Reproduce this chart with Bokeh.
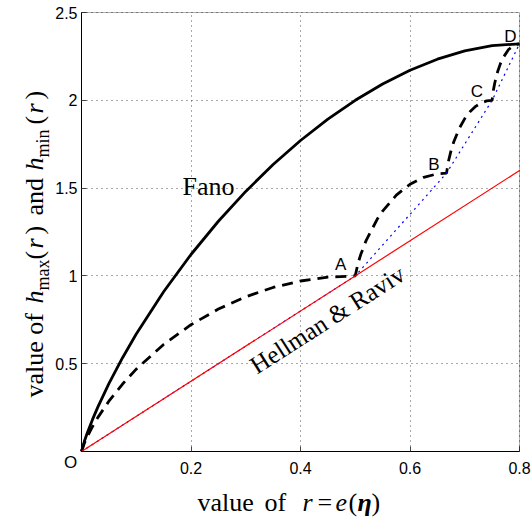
import math
from bokeh.plotting import figure
from bokeh.models import Range1d, FixedTicker, Label, BoxAnnotation
from bokeh.embed import file_html
from bokeh.resources import INLINE

# ---------------- data ----------------
r_fano = [0.0, 0.005, 0.01, 0.02, 0.03, 0.05, 0.075, 0.1, 0.15, 0.2, 0.25, 0.3,
          0.35, 0.4, 0.45, 0.5, 0.55, 0.6, 0.65, 0.7, 0.75, 0.8]
h_fano = [0.0, 0.0554, 0.1008, 0.1814, 0.2544, 0.3864, 0.5343, 0.669, 0.9098,
          1.1219, 1.3113, 1.4813, 1.6341, 1.771, 1.8928, 2.0, 2.0928, 2.171,
          2.2341, 2.2813, 2.3113, 2.3219]

r_hmin = [0.0, 0.005, 0.01, 0.02, 0.03, 0.05, 0.075, 0.1, 0.15, 0.2, 0.25, 0.3,
          0.35, 0.4, 0.45, 0.5,
          0.505, 0.51, 0.52, 0.54, 0.55, 0.575, 0.6, 0.625, 0.65, 0.6667,
          0.67, 0.675, 0.68, 0.69, 0.7, 0.71, 0.72, 0.73, 0.74, 0.75,
          0.7525, 0.755, 0.76, 0.765, 0.77, 0.78, 0.79, 0.8]
h_hmin = [0.0, 0.0454, 0.0808, 0.1414, 0.1944, 0.2864, 0.3843, 0.469, 0.6098,
          0.7219, 0.8113, 0.8813, 0.9341, 0.971, 0.9928, 1.0,
          1.0708, 1.1214, 1.2023, 1.3222, 1.369, 1.4599, 1.5219, 1.5613, 1.5813, 1.585,
          1.65, 1.714, 1.7639, 1.84, 1.8955, 1.9363, 1.9657, 1.9853, 1.9965, 2.0,
          2.0608, 2.1014, 2.1623, 2.2074, 2.2422, 2.2894, 2.3143, 2.3219]

r_hull = [0.0, 0.5, 0.6667, 0.75, 0.8]
h_hull = [0.0, 1.0, 1.585, 2.0, 2.3219]

r_hr = [0.0, 0.8]
h_hr = [0.0, 1.6]

pt_names = ["O", "A", "B", "C", "D"]
pt_r = [0.0, 0.5, 0.6667, 0.75, 0.8]
pt_h = [0.0, 1.0, 1.585, 2.0, 2.3219]

x_ticks = [0.2, 0.4, 0.6, 0.8]
y_ticks = [0.5, 1.0, 1.5, 2.0, 2.5]

# ---------------- layout ----------------
W, H = 531, 523
L, R, T, B = 81, 12, 12, 72          # pixel margins of the axes box
X0, X1 = 0.0, 0.8
Y0, Y1 = 0.0, 2.5
FW = W - L - R
FH = H - T - B
SHIFT = 0.33                          # label baseline correction (em)


def dx(px):
    return X0 + (px - L) / FW * (X1 - X0)


def dy(py):
    return Y0 + (T + FH - py) / FH * (Y1 - Y0)


SERIF = "Liberation Serif"
SANS = "Liberation Sans"

# the frame spans the whole canvas; the axes box is drawn at fixed locations
p = figure(width=W, height=H, output_backend="svg", toolbar_location=None,
           x_range=Range1d(dx(0), dx(W)), y_range=Range1d(dy(H), dy(0)),
           min_border=0)
p.background_fill_color = "white"
p.border_fill_color = "white"
p.outline_line_color = None

xa = p.xaxis[0]
ya = p.yaxis[0]
xa.fixed_location = Y0
ya.fixed_location = X0
xa.bounds = (X0, X1)
ya.bounds = (Y0, Y1)
xa.ticker = FixedTicker(ticks=x_ticks)
ya.ticker = FixedTicker(ticks=y_ticks)
xa.major_label_overrides = {t: f"{t:g}" for t in x_ticks}
ya.major_label_overrides = {t: f"{t:g}" for t in y_ticks}
for ax in (xa, ya):
    ax.major_tick_in = 5
    ax.major_tick_out = 0
    ax.minor_tick_in = 0
    ax.minor_tick_out = 0
    ax.axis_line_color = "black"
    ax.major_tick_line_color = "#444444"
    ax.major_label_text_font = SANS
    ax.major_label_text_font_size = "16px"
    ax.major_label_text_color = "black"
xa.major_label_standoff = 10
ya.major_label_standoff = 4

# grid
p.xgrid.ticker = FixedTicker(ticks=x_ticks)
p.ygrid.ticker = FixedTicker(ticks=y_ticks)
p.xgrid[0].cross_bounds = (Y0, Y1)
p.ygrid[0].cross_bounds = (X0, X1)
for g in (p.xgrid[0], p.ygrid[0]):
    g.grid_line_color = "#444444"
    g.grid_line_dash = "1 4"
    g.grid_line_width = 1
    g.grid_line_alpha = 0.9

# axes box
p.add_layout(BoxAnnotation(left=X0, right=X1, bottom=Y0, top=Y1,
                           fill_alpha=0, line_color="black", line_width=1,
                           level="overlay"))

# curves
p.line(r_fano, h_fano, line_color="black", line_width=2.8)
p.line(r_hmin, h_hmin, line_color="black", line_width=2.8, line_dash="11 7")
p.line(r_hull, h_hull, line_color="#0000ff", line_width=1.2, line_dash="2 4")
p.line(r_hr, h_hr, line_color="#ff0000", line_width=1.2)

# point labels (x offset px, y offset px up, align)
offsets = {"O": (-11, -11, "center"), "A": (-9, 11, "right"), "B": (-7, 9, "right"),
           "C": (-9, 9, "right"), "D": (-3, 7, "right")}
for name, rx, hy in zip(pt_names, pt_r, pt_h):
    ox, oy, al = offsets[name]
    p.add_layout(Label(x=rx, y=hy, text=name, x_offset=ox, y_offset=oy,
                       text_align=al, text_baseline="alphabetic",
                       text_font=SANS, text_font_size="17px", text_color="black"))

# curve labels
p.add_layout(Label(x=dx(182), y=dy(195 - SHIFT * 27), text="Fano", text_font=SERIF,
                   text_font_size="26px", text_align="left",
                   text_baseline="alphabetic", text_color="black"))
ang = math.atan((h_hr[1] - h_hr[0]) / (Y1 - Y0) * FH /
                ((r_hr[1] - r_hr[0]) / (X1 - X0) * FW))
p.add_layout(Label(x=dx(252), y=dy(367),
                   text="Hellman & Raviv", angle=ang,
                   text_font=SERIF, text_font_size="25px", text_align="left",
                   text_baseline="alphabetic", text_color="black"))

# x axis label (fragments): text, style, left px
XL_BASE = 511
xlab = [("value", "normal", 197), ("of", "normal", 264), ("r", "italic", 302),
        ("=", "normal", 317), ("e", "italic", 335), ("(", "normal", 348),
        ("\u03b7", "bold italic", 357), (")", "normal", 371)]
for txt, sty, px in xlab:
    p.add_layout(Label(x=dx(px), y=dy(XL_BASE - SHIFT * 26), text=txt,
                       text_font=SERIF, text_font_style=sty, text_font_size="26px",
                       text_align="left", text_baseline="alphabetic",
                       text_color="black"))

# y axis label (fragments, rotated): text, style, size, baseline px x, start px y
ylab = [("value of", "normal", 26, 43, 397), ("h", "italic", 26, 43, 303),
        ("max", "normal", 18, 48, 290), ("(", "normal", 26, 43, 259),
        ("r", "italic", 26, 43, 248), (")", "normal", 26, 43, 234),
        ("and", "normal", 26, 43, 215), ("h", "italic", 26, 43, 170),
        ("min", "normal", 18, 48, 157), ("(", "normal", 26, 43, 124),
        ("r", "italic", 26, 43, 113), (")", "normal", 26, 43, 99)]
for txt, sty, fs, bx, py in ylab:
    p.add_layout(Label(x=dx(bx - SHIFT * fs), y=dy(py), text=txt, angle=math.pi / 2,
                       text_font=SERIF, text_font_style=sty,
                       text_font_size=f"{fs}px", text_align="left",
                       text_baseline="alphabetic", text_color="black"))

open("out.html", "w").write(file_html(p, INLINE))
